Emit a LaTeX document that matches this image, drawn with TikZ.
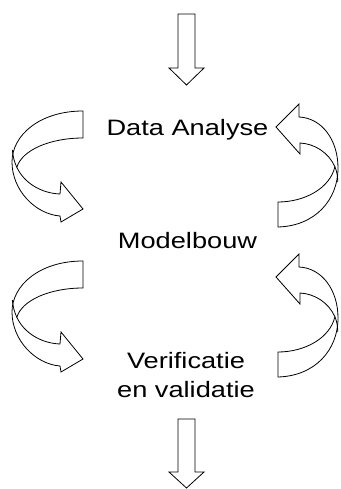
\documentclass[tikz,border=0pt]{standalone}
\usepackage{fontspec}
\setmainfont[FakeStretch=1.22]{Liberation Sans}
\begin{document}
\begin{tikzpicture}[x=1pt, y=-1pt, line width=0.8pt, line join=miter,
  blockarrow/.style={draw=black, fill=white},
  steptext/.style={font=\fontsize{22.3}{29}\selectfont, inner sep=0pt, anchor=base, align=center},
  % curved arrow on the left: tail at top right, head at bottom right
  leftloop/.pic={
    \draw[blockarrow] (83,111) .. controls (40,111) and (12,135) .. (12,162)
      .. controls (12,190) and (35,214) .. (60,216)
      -- (61,222) -- (83,209) -- (61,182) -- (60,194)
      .. controls (41.25,193.25) and (24.19,183.06) .. (16.83,167.31)
      .. controls (22,150) and (50,138) .. (83,138) -- cycle;
    \draw (12.4,150) .. controls (12.8,156.25) and (14.375,162.06) .. (16.83,167.31);
  },
  % curved arrow on the right: head at top left, tail at bottom left
  rightloop/.pic={
    \draw[blockarrow] (276,127) -- (299,104) -- (299,117)
      .. controls (322,118) and (338,140) .. (338,168)
      .. controls (338,200) and (315,226) .. (278,227)
      -- (278,202)
      .. controls (305,202) and (330,188) .. (334.875,166.77)
      .. controls (328.875,152.94) and (315,143.75) .. (300,143)
      -- (300,154) -- cycle;
    \draw (337.7,182) .. controls (337.8,176.5) and (336.875,171.375) .. (334.875,166.77);
  }]
\useasboundingbox (0,0) rectangle (340,489);

% incoming and outgoing arrows
\draw[blockarrow] (178,14) -- (195,14) -- (195,68) -- (204,68) -- (186.5,85)
  -- (169,68) -- (178,68) -- cycle;
\draw[blockarrow] (178,419) -- (195,419) -- (195,472) -- (204,472) -- (186.5,488)
  -- (169,472) -- (178,472) -- cycle;

% feedback loops
\pic at (0,0) {leftloop};
\pic at (0,150) {leftloop};
\pic at (0,0) {rightloop};
\pic at (0,150) {rightloop};

% process steps
\node[steptext] (data) at (187.5,136) {Data Analyse};
\node[steptext] (model) at (187.5,248) {Modelbouw};
\node[steptext] (verif) at (186,397) {Verificatie\\en validatie};
\end{tikzpicture}
\end{document}
